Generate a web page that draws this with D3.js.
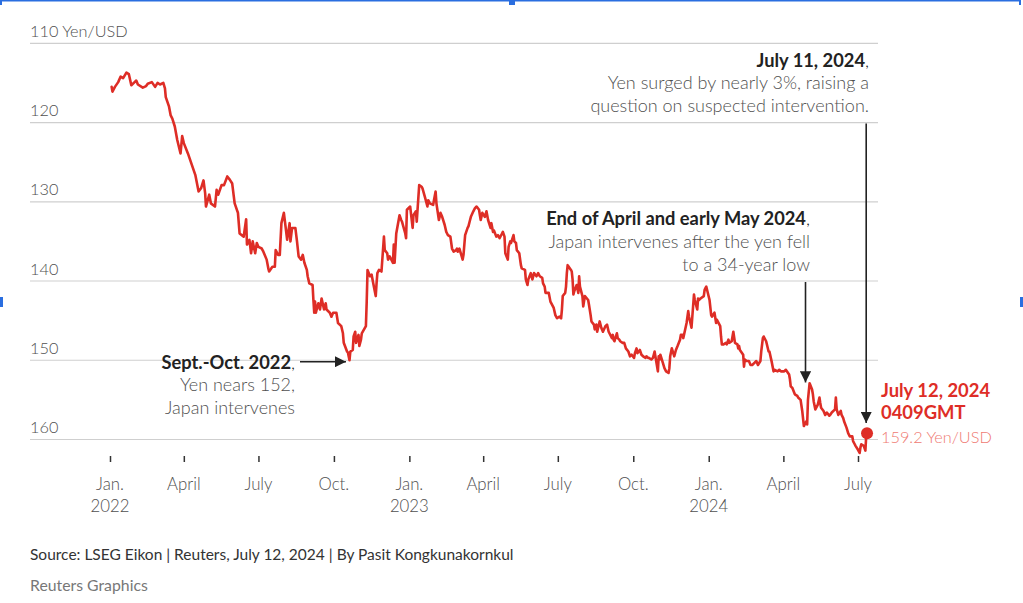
<!DOCTYPE html>
<html>
<head>
<meta charset="utf-8">
<script src="https://cdn.jsdelivr.net/npm/d3@7"></script>
<style>
  html, body { margin: 0; padding: 0; background: #fff; }
  svg { display: block; }
  text { font-family: "Lato", "Noto Sans", sans-serif; }
</style>
</head>
<body>
<svg id="chart" width="1023" height="603"></svg>
<script>
// ---------------- DATA ----------------
const series = [
["2022-01-03",115.5],["2022-01-04",116.1],["2022-01-07",115.5],["2022-01-11",114.9],["2022-01-14",114.2],
["2022-01-17",114.4],["2022-01-21",113.7],["2022-01-24",113.9],["2022-01-27",115.3],["2022-01-31",114.9],
["2022-02-02",114.7],["2022-02-04",115.2],["2022-02-10",115.6],["2022-02-14",115.4],["2022-02-16",115.1],
["2022-02-21",114.9],["2022-02-25",115.5],["2022-02-28",115.0],["2022-03-03",115.2],["2022-03-07",115.0],
["2022-03-09",115.7],["2022-03-10",116.8],["2022-03-14",118.0],["2022-03-16",119.1],["2022-03-18",119.5],
["2022-03-21",120.5],["2022-03-24",122.2],["2022-03-28",123.9],["2022-03-30",121.7],["2022-04-01",122.6],
["2022-04-06",123.9],["2022-04-11",125.4],["2022-04-15",126.6],["2022-04-19",128.7],["2022-04-22",128.3],
["2022-04-25",127.3],["2022-04-27",128.9],["2022-04-28",130.6],["2022-05-02",129.1],["2022-05-04",130.2],
["2022-05-09",130.6],["2022-05-11",128.5],["2022-05-13",129.1],["2022-05-17",127.9],["2022-05-20",127.9],
["2022-05-24",126.8],["2022-05-27",127.2],["2022-05-30",127.7],["2022-06-02",130.2],["2022-06-06",131.4],
["2022-06-08",134.0],["2022-06-13",134.4],["2022-06-16",132.2],["2022-06-17",135.4],["2022-06-20",134.8],
["2022-06-22",136.5],["2022-06-24",135.0],["2022-06-27",136.5],["2022-06-29",135.2],["2022-07-01",135.7],
["2022-07-05",135.9],["2022-07-07",136.3],["2022-07-11",137.3],["2022-07-13",138.4],["2022-07-14",138.8],
["2022-07-18",138.2],["2022-07-21",138.2],["2022-07-22",136.1],["2022-07-25",136.7],["2022-07-27",136.7],
["2022-07-29",132.7],["2022-08-01",131.4],["2022-08-03",133.1],["2022-08-05",134.8],["2022-08-08",132.7],
["2022-08-09",135.0],["2022-08-11",133.3],["2022-08-15",133.3],["2022-08-17",135.0],["2022-08-19",136.9],
["2022-08-22",137.3],["2022-08-24",136.7],["2022-08-26",137.7],["2022-08-29",138.6],["2022-08-30",139.4],
["2022-09-01",140.3],["2022-09-05",140.5],["2022-09-06",142.4],["2022-09-07",144.0],["2022-09-08",142.6],
["2022-09-09",144.0],["2022-09-12",142.8],["2022-09-14",143.6],["2022-09-16",142.2],["2022-09-19",143.6],
["2022-09-21",142.8],["2022-09-22",143.6],["2022-09-26",144.0],["2022-09-28",144.5],["2022-09-30",144.0],
["2022-10-04",144.0],["2022-10-06",145.3],["2022-10-10",145.7],["2022-10-12",146.6],["2022-10-13",147.8],
["2022-10-17",148.9],["2022-10-18",149.0],["2022-10-20",150.0],["2022-10-21",148.9],["2022-10-24",148.7],
["2022-10-25",147.0],["2022-10-27",146.4],["2022-10-28",147.8],["2022-10-31",146.8],["2022-11-01",148.2],
["2022-11-03",147.4],["2022-11-04",146.6],["2022-11-09",145.7],["2022-11-10",142.6],["2022-11-11",138.6],
["2022-11-14",139.4],["2022-11-16",139.2],["2022-11-18",140.3],["2022-11-21",141.9],["2022-11-22",140.3],
["2022-11-23",139.0],["2022-11-25",138.6],["2022-11-28",138.8],["2022-12-01",134.4],["2022-12-02",136.1],
["2022-12-05",136.5],["2022-12-06",137.3],["2022-12-08",136.9],["2022-12-12",137.7],["2022-12-13",135.4],
["2022-12-14",137.7],["2022-12-16",134.0],["2022-12-20",131.7],["2022-12-22",132.3],["2022-12-23",132.5],
["2022-12-27",134.0],["2022-12-28",134.6],["2022-12-29",131.0],
["2023-01-02",130.6],["2023-01-05",133.3],["2023-01-06",131.7],["2023-01-09",131.2],["2023-01-10",132.5],
["2023-01-13",127.9],["2023-01-16",128.1],["2023-01-17",128.3],["2023-01-20",129.4],["2023-01-23",130.6],
["2023-01-24",129.8],["2023-01-26",130.2],["2023-01-30",130.4],["2023-01-31",129.8],["2023-02-02",128.7],
["2023-02-03",130.2],["2023-02-06",132.3],["2023-02-08",131.4],["2023-02-10",131.9],["2023-02-13",132.9],
["2023-02-15",133.8],["2023-02-16",134.0],["2023-02-17",134.2],["2023-02-20",134.4],["2023-02-22",135.9],
["2023-02-24",136.3],["2023-02-27",136.1],["2023-02-28",135.9],["2023-03-01",136.3],["2023-03-03",135.9],
["2023-03-07",137.3],["2023-03-08",136.7],["2023-03-10",134.2],["2023-03-13",133.3],["2023-03-14",133.1],
["2023-03-16",132.3],["2023-03-17",131.9],["2023-03-20",131.2],["2023-03-22",130.8],["2023-03-24",130.6],
["2023-03-27",131.0],["2023-03-28",131.7],["2023-03-29",132.3],["2023-03-31",131.4],["2023-04-03",131.9],
["2023-04-05",131.2],["2023-04-07",132.3],["2023-04-10",133.3],["2023-04-11",132.7],["2023-04-13",133.8],
["2023-04-14",133.6],["2023-04-17",134.4],["2023-04-19",134.2],["2023-04-21",134.6],["2023-04-24",134.0],
["2023-04-25",133.8],["2023-04-27",134.4],["2023-04-28",136.5],["2023-05-01",137.3],["2023-05-02",135.7],
["2023-05-04",135.0],["2023-05-05",135.2],["2023-05-08",134.2],["2023-05-09",135.0],["2023-05-11",135.2],
["2023-05-12",136.1],["2023-05-15",136.5],["2023-05-17",138.0],["2023-05-18",138.4],["2023-05-22",138.6],
["2023-05-23",139.8],["2023-05-25",140.5],["2023-05-26",139.8],["2023-05-29",139.0],["2023-05-31",139.8],
["2023-06-02",139.0],["2023-06-05",139.4],["2023-06-07",139.0],["2023-06-09",139.4],["2023-06-12",139.6],
["2023-06-13",140.3],["2023-06-15",140.7],["2023-06-16",141.5],["2023-06-20",141.5],["2023-06-22",142.6],
["2023-06-26",143.4],["2023-06-28",144.3],["2023-06-30",144.7],["2023-07-03",144.5],["2023-07-05",144.7],
["2023-07-06",143.6],["2023-07-07",141.9],["2023-07-10",141.5],["2023-07-11",140.7],["2023-07-12",139.0],
["2023-07-13",138.0],["2023-07-17",138.6],["2023-07-18",138.8],["2023-07-19",139.8],["2023-07-20",141.7],
["2023-07-21",141.3],["2023-07-24",140.5],["2023-07-26",141.5],["2023-07-27",139.4],["2023-07-28",140.7],
["2023-07-31",141.9],["2023-08-01",143.2],["2023-08-03",141.9],["2023-08-07",142.4],["2023-08-08",143.0],
["2023-08-10",144.3],["2023-08-11",145.1],["2023-08-14",145.5],["2023-08-15",146.1],["2023-08-17",145.5],
["2023-08-18",146.4],["2023-08-21",145.1],["2023-08-23",145.9],["2023-08-25",146.4],["2023-08-28",145.7],
["2023-08-30",145.5],["2023-09-01",146.4],["2023-09-05",147.2],["2023-09-06",146.8],["2023-09-07",147.4],
["2023-09-08",147.6],["2023-09-11",146.6],["2023-09-12",147.2],["2023-09-14",147.4],["2023-09-15",147.6],
["2023-09-18",147.8],["2023-09-20",147.8],["2023-09-22",148.5],["2023-09-25",148.9],["2023-09-27",149.5],
["2023-09-29",149.3],["2023-10-02",149.7],["2023-10-03",149.1],["2023-10-05",148.5],["2023-10-06",149.1],
["2023-10-09",148.7],["2023-10-11",149.3],["2023-10-13",149.5],["2023-10-16",149.7],["2023-10-17",149.5],
["2023-10-19",149.7],["2023-10-20",149.7],["2023-10-23",149.9],["2023-10-25",149.7],["2023-10-26",149.3],
["2023-10-27",148.9],["2023-10-31",151.4],["2023-11-01",149.5],["2023-11-02",149.9],["2023-11-03",149.3],
["2023-11-06",150.3],["2023-11-08",151.0],["2023-11-10",151.4],["2023-11-13",151.6],["2023-11-14",151.0],
["2023-11-15",149.5],["2023-11-17",148.5],["2023-11-20",149.5],["2023-11-22",148.7],["2023-11-24",148.2],
["2023-11-27",147.4],["2023-11-28",146.8],["2023-11-30",146.8],["2023-12-01",147.2],["2023-12-05",145.3],
["2023-12-07",143.8],["2023-12-08",144.5],["2023-12-11",145.9],["2023-12-14",141.7],["2023-12-15",142.4],
["2023-12-18",143.6],["2023-12-19",142.2],["2023-12-20",142.4],["2023-12-22",142.2],["2023-12-26",141.9],
["2023-12-27",141.1],["2023-12-28",140.9],["2023-12-29",140.7],
["2024-01-02",142.4],["2024-01-04",144.3],["2024-01-05",144.5],["2024-01-08",144.0],["2024-01-10",145.3],
["2024-01-11",144.9],["2024-01-15",145.7],["2024-01-16",147.0],["2024-01-17",148.0],["2024-01-19",148.0],
["2024-01-22",147.8],["2024-01-23",148.0],["2024-01-25",147.4],["2024-01-26",147.8],["2024-01-29",147.6],
["2024-01-31",146.4],["2024-02-02",147.8],["2024-02-05",148.0],["2024-02-06",148.5],["2024-02-07",148.2],
["2024-02-08",148.7],["2024-02-12",149.3],["2024-02-13",150.8],["2024-02-14",149.9],["2024-02-16",150.1],
["2024-02-19",150.1],["2024-02-21",150.6],["2024-02-23",150.6],["2024-02-26",150.3],["2024-02-28",150.1],
["2024-03-01",150.6],["2024-03-04",150.1],["2024-03-05",148.9],["2024-03-07",147.2],["2024-03-08",147.0],
["2024-03-11",147.6],["2024-03-14",148.9],["2024-03-15",148.9],["2024-03-18",150.3],["2024-03-20",151.4],
["2024-03-21",151.2],["2024-03-25",151.4],["2024-03-27",151.2],["2024-03-29",151.4],["2024-04-02",151.4],
["2024-04-04",151.2],["2024-04-08",151.8],["2024-04-09",152.4],["2024-04-10",153.3],["2024-04-12",153.5],
["2024-04-15",154.3],["2024-04-18",154.5],["2024-04-19",154.7],["2024-04-22",155.0],["2024-04-24",156.4],
["2024-04-26",158.3],["2024-04-29",157.7],["2024-04-30",158.1],["2024-05-01",155.0],["2024-05-03",152.9],
["2024-05-06",153.7],["2024-05-07",154.3],["2024-05-08",155.2],["2024-05-10",156.2],["2024-05-13",155.6],
["2024-05-15",154.7],["2024-05-16",155.4],["2024-05-17",156.0],["2024-05-20",156.4],["2024-05-22",156.9],
["2024-05-24",156.6],["2024-05-27",157.0],["2024-05-28",156.9],["2024-05-30",156.6],["2024-06-03",156.2],
["2024-06-04",154.7],["2024-06-05",156.2],["2024-06-07",156.9],["2024-06-10",156.4],["2024-06-11",156.9],
["2024-06-13",157.3],["2024-06-14",157.7],["2024-06-17",158.5],["2024-06-19",159.2],["2024-06-21",159.6],
["2024-06-24",159.6],["2024-06-25",160.2],["2024-06-27",160.6],["2024-06-28",160.8],["2024-07-01",161.3],
["2024-07-03",161.7],["2024-07-04",161.0],["2024-07-05",160.6],["2024-07-08",160.8],["2024-07-10",161.4],
["2024-07-11",159.6],["2024-07-12",159.2]
];

const yTickValues = [110, 120, 130, 140, 150, 160];
const yUnitLabel = "Yen/USD";
const xTickDates = ["2022-01-01","2022-04-01","2022-07-01","2022-10-01","2023-01-01","2023-04-01",
                    "2023-07-01","2023-10-01","2024-01-01","2024-04-01","2024-07-01"];
const monthLabels = {0: "Jan.", 3: "April", 6: "July", 9: "Oct."};

const annotations = [
  {date: "2022-10-20", value: 150.3, kind: "left",
   lines: [["Sept.-Oct. 2022", ","], ["Yen nears 152,"], ["Japan intervenes"]]},
  {date: "2024-04-28", value: 140, kind: "down",
   lines: [["End of April and early May 2024", ","], ["Japan intervenes after the yen fell"], ["to a 34-year low"]]},
  {date: "2024-07-11", value: 120, kind: "down",
   lines: [["July 11, 2024", ","], ["Yen surged by nearly 3%, raising a"], ["question on suspected intervention."]]}
];
const latest = {date: "2024-07-12", value: 159.2, title: ["July 12, 2024", "0409GMT"]};
const sourceText = "Source: LSEG Eikon | Reuters, July 12, 2024 | By Pasit Kongkunakornkul";
const creditText = "Reuters Graphics";

// ---------------- CHART ----------------
const parse = d3.timeParse("%Y-%m-%d");
const data = series.map(([d, v]) => ({date: parse(d), value: v}));

const svg = d3.select("#chart");
const RED = "#de2d26";
const GRAY_TEXT = "#505050";

const x = d3.scaleTime()
  .domain([parse("2022-01-01"), parse("2024-07-01")])
  .range([110, 858]);
const y = d3.scaleLinear().domain([110, 160]).range([43.3, 439.5]);

const gridLeft = 30, gridRight = 878;

// screenshot frame marks
const blue = "#2a6ee0";
svg.append("rect").attr("x", 0).attr("y", 0).attr("width", 1021).attr("height", 1.5).attr("fill", blue);
svg.append("rect").attr("x", 0).attr("y", 0).attr("width", 2).attr("height", 5).attr("fill", blue);
svg.append("rect").attr("x", 1019).attr("y", 0).attr("width", 2).attr("height", 5).attr("fill", blue);
svg.append("rect").attr("x", 509).attr("y", 0).attr("width", 6).attr("height", 5).attr("fill", blue);
svg.append("rect").attr("x", 0).attr("y", 297).attr("width", 3).attr("height", 10).attr("fill", blue);
svg.append("rect").attr("x", 1020).attr("y", 297).attr("width", 3).attr("height", 10).attr("fill", blue);

// gridlines + y labels
const grid = svg.append("g");
grid.selectAll("line").data(yTickValues).join("line")
  .attr("x1", gridLeft).attr("x2", gridRight)
  .attr("y1", d => y(d)).attr("y2", d => y(d))
  .attr("stroke", "#cfcfcf").attr("stroke-width", 1.2);
grid.selectAll("text").data(yTickValues).join("text")
  .attr("x", gridLeft).attr("y", d => y(d) - 6.5)
  .attr("font-size", 16.3).attr("font-weight", 300).attr("fill", GRAY_TEXT)
  .text((d, i) => i === 0 ? `${d} ${yUnitLabel}` : d);

// x axis ticks
const tickDates = xTickDates.map(parse);
const xAxis = d3.axisBottom(x).tickValues(tickDates).tickSize(6).tickFormat("");
const gx = svg.append("g").attr("transform", "translate(0,456)").call(xAxis);
gx.select(".domain").remove();
gx.selectAll(".tick line").attr("stroke", "#333").attr("stroke-width", 1.5);

const xl = svg.append("g");
tickDates.forEach(d => {
  const t = xl.append("text").attr("x", x(d)).attr("y", 489.5)
    .attr("text-anchor", "middle").attr("font-size", 16.8).attr("font-weight", 300).attr("fill", GRAY_TEXT);
  t.append("tspan").attr("x", x(d)).text(monthLabels[d.getMonth()]);
  if (d.getMonth() === 0) t.append("tspan").attr("x", x(d)).attr("dy", 22.5).text(d.getFullYear());
});

// line
const line = d3.line().x(d => x(d.date)).y(d => y(d.value));
svg.append("path").datum(data)
  .attr("d", line).attr("fill", "none")
  .attr("stroke", RED).attr("stroke-width", 2.6)
  .attr("stroke-linejoin", "round").attr("stroke-linecap", "round");

// arrowheads
const defs = svg.append("defs");
defs.append("marker").attr("id", "arr").attr("viewBox", "0 0 10 10")
  .attr("refX", 10).attr("refY", 5).attr("markerWidth", 7).attr("markerHeight", 7)
  .attr("markerUnits", "strokeWidth").attr("orient", "auto")
  .append("path").attr("d", "M0,0 L10,5 L0,10 Z").attr("fill", "#222");

// annotations
function drawLines(g, xEnd, y0, lines, boldSize, regSize, gap) {
  lines.forEach((ln, i) => {
    const t = g.append("text").attr("x", xEnd).attr("y", y0 + i * gap)
      .attr("text-anchor", "end").attr("font-size", i === 0 ? boldSize : regSize);
    if (i === 0) {
      t.append("tspan").attr("font-weight", 700).attr("fill", "#222").text(ln[0]);
      t.append("tspan").attr("font-weight", 300).attr("fill", "#222").text(ln[1]);
    } else {
      t.attr("font-weight", 300).attr("fill", GRAY_TEXT).text(ln[0]);
    }
  });
}
const ag = svg.append("g");
// Sept-Oct 2022 : horizontal arrow
{
  const a = annotations[0];
  const tipX = x(parse(a.date)) - 3.5, tipY = 361.7;
  ag.append("line").attr("x1", 300).attr("x2", tipX).attr("y1", tipY).attr("y2", tipY)
    .attr("stroke", "#222").attr("stroke-width", 1.6).attr("marker-end", "url(#arr)");
  drawLines(ag, 295, 368.5, a.lines, 18.3, 18, 22.7);
}
// End of April 2024 : down arrow
{
  const a = annotations[1];
  const ax = x(parse(a.date));
  ag.append("line").attr("x1", ax).attr("x2", ax).attr("y1", y(a.value) + 1).attr("y2", 382.5)
    .attr("stroke", "#222").attr("stroke-width", 1.6).attr("marker-end", "url(#arr)");
  drawLines(ag, 810, 224.5, a.lines, 18.3, 18, 23);
}
// July 11 2024 : down arrow
{
  const a = annotations[2];
  const ax = x(parse(a.date));
  ag.append("line").attr("x1", ax).attr("x2", ax).attr("y1", y(a.value) + 1).attr("y2", 423)
    .attr("stroke", "#222").attr("stroke-width", 1.6).attr("marker-end", "url(#arr)");
  drawLines(ag, 869, 66.5, a.lines, 18.3, 18, 22.5);
}

// latest point
const lx = x(parse(latest.date)), ly = y(latest.value);
svg.append("circle").attr("cx", lx).attr("cy", ly).attr("r", 6).attr("fill", RED);
const lg = svg.append("g").attr("font-size", 18.4);
lg.append("text").attr("x", 881).attr("y", 396.5).attr("font-weight", 700).attr("fill", RED).text(latest.title[0]);
lg.append("text").attr("x", 881).attr("y", 418.5).attr("font-weight", 700).attr("fill", RED).text(latest.title[1]);
lg.append("text").attr("x", 881).attr("y", 442.5).attr("font-weight", 300).attr("font-size", 16.3).attr("fill", "#ef7a72")
  .text(`${latest.value} ${yUnitLabel}`);

// footer
svg.append("text").attr("x", 30).attr("y", 559.5).attr("font-size", 15.5).attr("font-weight", 400)
  .attr("fill", "#333").text(sourceText);
svg.append("text").attr("x", 30).attr("y", 591).attr("font-size", 15.8).attr("font-weight", 400)
  .attr("fill", "#777").text(creditText);
</script>
</body>
</html>
